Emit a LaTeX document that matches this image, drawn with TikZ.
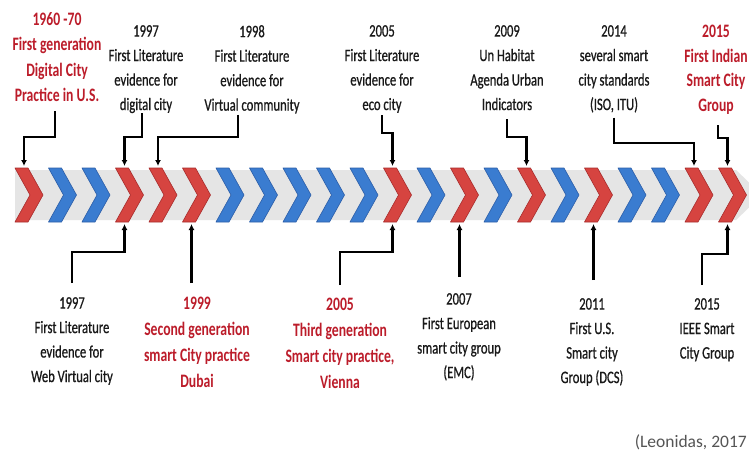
\documentclass[tikz,border=0pt]{standalone}
\usepackage{fontspec}
\setmainfont{Carlito}
\newfontfamily\labfont[FakeStretch=0.72,FakeBold=0.7]{Carlito}
\newfontfamily\redlabfont[FakeStretch=0.72]{Carlito}
\usetikzlibrary{arrows.meta,calc}

\definecolor{evred}{RGB}{188,28,42}
\definecolor{chevredfill}{RGB}{214,68,64}
\definecolor{chevredline}{RGB}{168,44,44}
\definecolor{chevbluefill}{RGB}{58,124,208}
\definecolor{chevblueline}{RGB}{44,94,168}
\definecolor{bandgray}{RGB}{229,229,229}
\definecolor{srcgray}{RGB}{85,85,85}

\tikzset{
  blk/.style={font=\labfont\fontsize{17.5}{24.5}\selectfont, align=center,
    inner sep=0pt, anchor=north, text=black!90},
  redtx/.style={font=\redlabfont\bfseries\fontsize{19}{25.5}\selectfont, align=center,
    inner sep=0pt, anchor=north, text=evred},
  srctx/.style={font=\fontsize{17.5}{21}\selectfont, inner sep=0pt,
    anchor=base east, text=srcgray},
  chevR/.style={fill=chevredfill, draw=chevredline, line width=0.6pt, line join=round},
  chevB/.style={fill=chevbluefill, draw=chevblueline, line width=0.6pt, line join=round},
  conn/.style={draw=black, line width=2.6pt, line join=miter,
    -{Latex[length=6pt,width=6pt]}},
}

\begin{document}
\begin{tikzpicture}[x=1pt,y=-1pt]
  \useasboundingbox (0,0) rectangle (749,451);
  \fill[white] (0,0) rectangle (749,451);

  % timeline band with its pointed end and the row of chevrons
  \begin{scope}
    \clip (0,0) rectangle (749,451);
    \fill[bandgray] (15,170) -- (736,170) -- (762,195) -- (736,220) -- (15,220) -- cycle;
    \foreach \i/\c in {0/chevR,1/chevB,2/chevB,3/chevR,4/chevR,5/chevR,6/chevB,
        7/chevB,8/chevB,9/chevB,10/chevB,11/chevR,12/chevB,13/chevR,14/chevB,
        15/chevR,16/chevB,17/chevR,18/chevB,19/chevB,20/chevR,21/chevR}{
      \pgfmathsetmacro\L{15+33.5*\i}
      \draw[\c] (\L,168) -- ++(13,0) -- ++(15,27) -- ++(-15,27) -- ++(-13,0)
        -- ++(15,-27) -- cycle;
      \coordinate (ct\i) at (\L+9,166);
      \coordinate (cb\i) at (\L+9,224);
    }
  \end{scope}

  % events above the timeline
  \node[redtx] (t1) at (57,12) {1960 -70\\First generation\\Digital City\\Practice in U.S.};
  \node[blk] (t2) at (146,25) {1997\\First Literature\\evidence for\\digital city};
  \node[blk] (t3) at (252,25) {1998\\First Literature\\evidence for\\Virtual community};
  \node[blk] (t4) at (382,25) {2005\\First Literature\\evidence for\\eco city};
  \node[blk] (t5) at (507,25) {2009\\Un Habitat\\Agenda Urban\\Indicators};
  \node[blk] (t6) at (614,25) {2014\\several smart\\city standards\\(ISO, ITU)};
  \node[redtx, font=\redlabfont\bfseries\fontsize{19}{24.5}\selectfont] (t7) at (716,25)
    {2015\\First Indian\\Smart City\\Group};

  % events below the timeline
  \node[blk] (b1) at (72,297) {1997\\First Literature\\evidence for\\Web Virtual city};
  \node[redtx, font=\redlabfont\bfseries\fontsize{19}{26}\selectfont] (b2) at (197,297)
    {1999\\Second generation\\smart City practice\\Dubai};
  \node[redtx, font=\redlabfont\bfseries\fontsize{19}{26}\selectfont] (b3) at (340,298)
    {2005\\Third generation\\Smart city practice,\\Vienna};
  \node[blk] (b4) at (459,293) {2007\\First European\\smart city group\\(EMC)};
  \node[blk] (b5) at (592,298) {2011\\First U.S.\\Smart city\\Group (DCS)};
  \node[blk] (b6) at (707,298) {2015\\IEEE Smart\\City Group};

  \node[srctx] (src) at (747,447) {(Leonidas, 2017};

  % connectors from the upper events down to their chevrons
  \draw[conn] ([shift={(-2,9)}]t1.south) |- ($(ct0)+(0,-29)$) -- (ct0);
  \draw[conn] ([shift={(-4,0)}]t2.south) |- ($(ct3)+(0,-29)$) -- (ct3);
  \draw[conn] ([shift={(-14,1)}]t3.south) |- ($(ct4)+(0,-29)$) -- (ct4);
  \draw[conn] ([shift={(0,2)}]t4.south) |- ($(ct11)+(0,-33)$) -- (ct11);
  \draw[conn] ([shift={(0,9)}]t5.south) |- ($(ct15)+(0,-29)$) -- (ct15);
  \draw[conn] ([shift={(0,5)}]t6.south) |- ($(ct20)+(0,-23)$) -- (ct20);
  \draw[conn] ([shift={(2,11)}]t7.south) |- ($(ct21)+(0,-28)$) -- (ct21);

  % connectors from the lower events up to their chevrons
  \draw[conn] ([shift={(0,-14)}]b1.north) |- ($(cb3)+(0,28)$) -- (cb3);
  \draw[conn] (cb5 |- b2.north) ++(0,-14) -- (cb5);
  \draw[conn] ([shift={(0,-13)}]b3.north) |- ($(cb11)+(0,28)$) -- (cb11);
  \draw[conn] (cb13 |- b4.north) ++(0,-16) -- (cb13);
  \draw[conn] (cb17 |- b5.north) ++(0,-18) -- (cb17);
  \draw[conn] ([shift={(-5,-13)}]b6.north) |- ($(cb21)+(0,30)$) -- (cb21);
\end{tikzpicture}
\end{document}
